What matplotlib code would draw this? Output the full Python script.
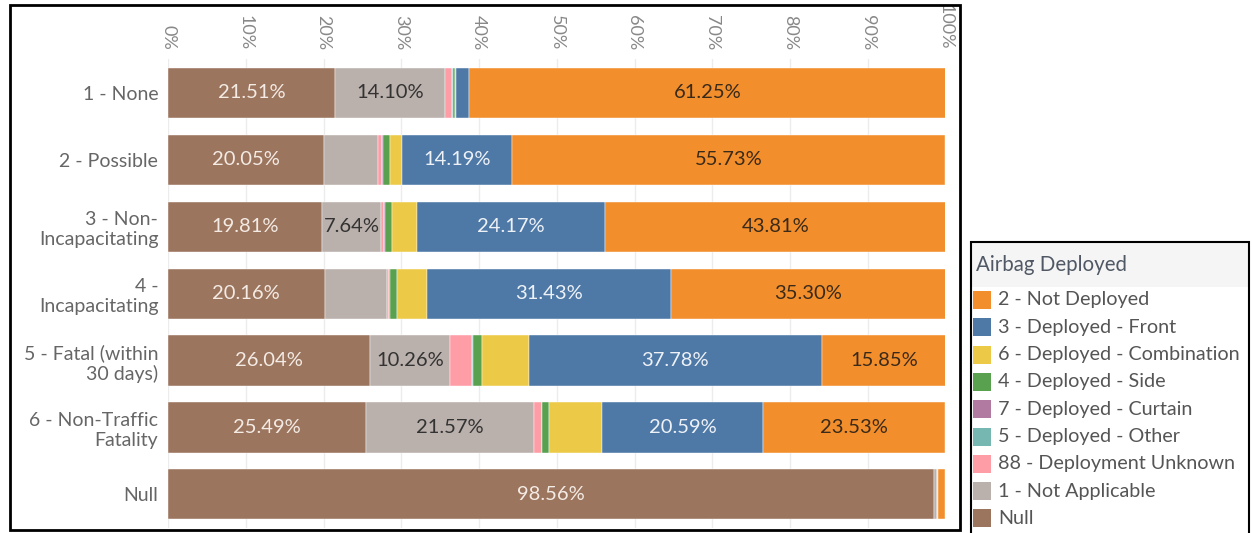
import numpy as np
from matplotlib import pyplot as plt
from matplotlib.patches import Rectangle

plt.rcParams['font.family'] = ['Lato', 'DejaVu Sans']

# injury severity rows, top to bottom
severity = ['1 - None', '2 - Possible', '3 - Non-\nIncapacitating', '4 -\nIncapacitating',
            '5 - Fatal (within\n30 days)', '6 - Non-Traffic\nFatality', 'Null']

# airbag deployment share (%) per row, in stacking order left to right
null_vals      = [21.51, 20.05, 19.81, 20.16, 26.04, 25.49, 98.56]
not_applicable = [14.10,  7.00,  7.64,  7.98, 10.26, 21.57,  0.35]
unknown        = [ 0.90,  0.45,  0.30,  0.25,  2.75,  0.98,  0.00]
other          = [ 0.10,  0.05,  0.05,  0.05,  0.15,  0.00,  0.10]
curtain        = [ 0.00,  0.05,  0.05,  0.05,  0.05,  0.00,  0.00]
side           = [ 0.30,  0.90,  1.00,  0.95,  1.20,  0.98,  0.00]
combination    = [ 0.10,  1.58,  3.17,  3.83,  5.92,  6.86,  0.00]
front          = [ 1.74, 14.19, 24.17, 31.43, 37.78, 20.59,  0.00]
not_deployed   = [61.25, 55.73, 43.81, 35.30, 15.85, 23.53,  0.99]

series = [
    ('Null', null_vals, '#9c755f', '#f3ebe4'),
    ('1 - Not Applicable', not_applicable, '#bab0ac', '#333333'),
    ('88 - Deployment Unknown', unknown, '#ff9da7', '#333333'),
    ('5 - Deployed - Other', other, '#76b7b2', '#333333'),
    ('7 - Deployed - Curtain', curtain, '#b07aa1', '#333333'),
    ('4 - Deployed - Side', side, '#59a14f', '#333333'),
    ('6 - Deployed - Combination', combination, '#edc948', '#333333'),
    ('3 - Deployed - Front', front, '#4e79a7', '#eef2f7'),
    ('2 - Not Deployed', not_deployed, '#f28e2b', '#3a2a1a'),
]
legend_order = ['2 - Not Deployed', '3 - Deployed - Front', '6 - Deployed - Combination',
                '4 - Deployed - Side', '7 - Deployed - Curtain', '5 - Deployed - Other',
                '88 - Deployment Unknown', '1 - Not Applicable', 'Null']

# small segments that still carry a label
extra_labels = [(2, '1 - Not Applicable')]

fig = plt.figure(figsize=(12.52, 5.33), dpi=100)
ax = fig.add_axes([168 / 1252, 1 - 527.8 / 533, (945.5 - 168) / 1252, (527.8 - 59.5) / 533])

y = np.arange(len(severity))
left = np.zeros(len(severity))
for name, vals, color, txt_color in series:
    vals = np.array(vals)
    ax.barh(y, vals, left=left, height=0.75, color=color, edgecolor='white', linewidth=0.3, zorder=2)
    for i, v in enumerate(vals):
        if v >= 10 or (i, name) in extra_labels:
            ax.text(left[i] + v / 2, y[i], f'{v:.2f}%', ha='center', va='center',
                    fontsize=14.5, color=txt_color, zorder=3)
    left += vals

ax.set_xlim(0, 100)
ax.set_ylim(len(severity) - 0.5, -0.5)
ax.set_xticks(np.arange(0, 101, 10))
ax.set_xticklabels([f'{t}%' for t in range(0, 101, 10)], rotation=-90, color='#888888', fontsize=13)
ax.xaxis.tick_top()
ax.tick_params(axis='x', length=0, pad=7)
ax.set_yticks(y)
ax.set_yticklabels(severity, color='#666666', fontsize=14)
ax.tick_params(axis='y', length=0, pad=7)
for s in ax.spines.values():
    s.set_visible(False)
ax.grid(axis='x', color='#ececec', linewidth=1, zorder=0)

# outer frame around the chart
fig.add_artist(Rectangle((10 / 1252, 1 - 530 / 533), 950 / 1252, 525 / 533, transform=fig.transFigure,
                         fill=False, edgecolor='black', linewidth=2))

# colour legend
lx0, ly0 = 971 / 1252, 1 - 242 / 533
fig.add_artist(Rectangle((lx0, 1 - 287 / 533), (1249 - 971) / 1252, 45 / 533, transform=fig.transFigure,
                         facecolor='#f5f5f5', edgecolor='none'))
fig.add_artist(Rectangle((lx0, -0.02), (1249 - 971) / 1252, ly0 + 0.02, transform=fig.transFigure,
                         fill=False, edgecolor='black', linewidth=1.5))
fig.text(976 / 1252, 1 - 265 / 533, 'Airbag Deployed', fontsize=14.8, color='#4f5864', va='center')
colors = {name: color for name, _, color, _ in series}
for k, name in enumerate(legend_order):
    yc = 300 + k * 27.3
    fig.add_artist(Rectangle((973 / 1252, 1 - (yc + 9) / 533), 18 / 1252, 18 / 533,
                             transform=fig.transFigure, facecolor=colors[name], edgecolor='none'))
    fig.text(998 / 1252, 1 - yc / 533, name, fontsize=14.2, color='#555555', va='center')

fig.savefig('out.png', dpi=100)
